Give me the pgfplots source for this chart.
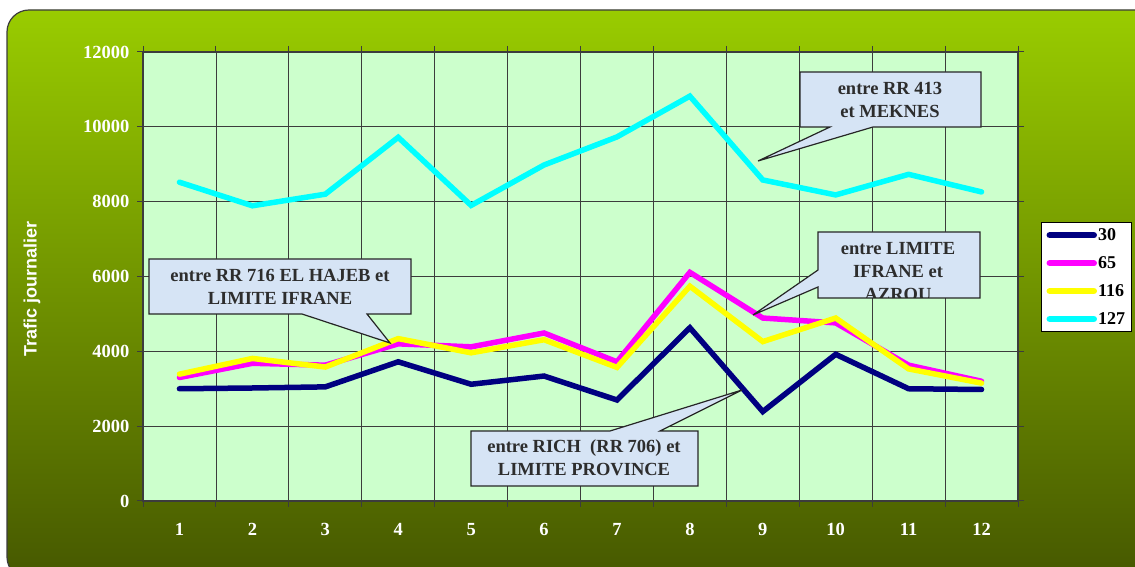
\documentclass[border=0pt]{standalone}
\usepackage{fontspec}
\setmainfont{Liberation Serif}
\newfontfamily\arialb{Liberation Sans}
\usepackage{pgfplots}
\pgfplotsset{compat=1.18}
\usepackage{pgfplotstable}

\definecolor{snavy}{RGB}{0,0,128}
\definecolor{smag}{RGB}{255,0,255}
\definecolor{syel}{RGB}{255,255,0}
\definecolor{scyan}{RGB}{0,255,255}
\definecolor{plotbg}{RGB}{204,255,204}
\definecolor{gtop}{RGB}{153,204,0}
\definecolor{gbot}{RGB}{70,88,0}
\definecolor{cfill}{RGB}{214,228,245}
\definecolor{frame}{RGB}{60,60,60}
\definecolor{ctext}{RGB}{45,45,45}

\pgfplotstableread{
x  a30  a65  a116  a127
1  3000 3300 3390  8520
2  3020 3680 3810  7890
3  3050 3630 3580  8200
4  3720 4200 4340  9720
5  3120 4120 3960  7900
6  3340 4490 4310  8980
7  2700 3720 3570  9730
8  4630 6110 5740  10820
9  2390 4890 4260  8580
10 3920 4760 4890  8180
11 3000 3630 3530  8730
12 2980 3200 3150  8260
}\datatable

\begin{document}
\begin{tikzpicture}[x=1pt,y=1pt]
\useasboundingbox (0,0) rectangle (1135,567);
\fill[white] (0,0) rectangle (1135,567);
\clip (0,0) rectangle (1135,567);
\path[draw=frame, line width=1.2pt, top color=gtop, bottom color=gbot, rounded corners=22pt]
  (7,557) rectangle (1160,-12);

\node[rotate=90, text=white, font={\arialb\bfseries\fontsize{18}{20}\selectfont}] at (32,278) {Trafic journalier};

\begin{axis}[
  at={(143pt,66pt)}, anchor=south west,
  width=875pt, height=449pt, scale only axis,
  xmin=0.5, xmax=12.5, ymin=0, ymax=12000,
  axis background/.style={fill=plotbg},
  axis line style={draw=frame, line width=2pt},
  xtick={0.5,1.5,...,12.5}, xticklabels={},
  xmajorgrids=true,
  extra x ticks={1,2,...,12},
  extra x tick labels={1,2,3,4,5,6,7,8,9,10,11,12},
  extra x tick style={major tick length=0pt, grid=none},
  ytick={0,2000,...,12000},
  ymajorgrids=true,
  grid style={draw=frame, line width=0.8pt},
  tick align=outside, major tick length=6pt,
  tick style={draw=frame, line width=1pt},
  scaled y ticks=false,
  /pgf/number format/.cd, 1000 sep={}, assume math mode=true,
  /pgfplots/.cd,
  ticklabel style={text=white, font={\bfseries\fontsize{18.5}{20}\selectfont}},
  xticklabel style={yshift=-19pt},
  yticklabel style={xshift=-4pt},
  legend style={at={(1.0263,0.6214)}, anchor=north west, draw=black, line width=1pt,
    fill=white, font={\bfseries\fontsize{18}{20}\selectfont},
    inner xsep=5pt, inner ysep=5pt, row sep=12.5pt,
    nodes={inner sep=1pt}},
  legend cell align=left,
  legend image code/.code={\draw[#1, line width=6.5pt, line cap=round] (0pt,0pt) -- (44pt,0pt);},
]
\addplot[color=snavy, line width=5.5pt, line cap=round] table[x=x,y=a30] {\datatable};
\addlegendentry{30}
\addplot[color=smag, line width=5.5pt, line cap=round] table[x=x,y=a65] {\datatable};
\addlegendentry{65}
\addplot[color=syel, line width=5.5pt, line cap=round] table[x=x,y=a116] {\datatable};
\addlegendentry{116}
\addplot[color=scyan, line width=5.5pt, line cap=round] table[x=x,y=a127] {\datatable};
\addlegendentry{127}
\end{axis}

% callout 1
\draw[fill=cfill, draw=black!85, line width=1.2pt]
  (149,253) -- (302,253) -- (390,224) -- (367,253) -- (411,253) -- (411,308) -- (149,308) -- cycle;
\node[align=center, text=ctext, font={\bfseries\fontsize{18.5}{23}\selectfont}] at (280,280)
  {entre RR 716 EL HAJEB et\\LIMITE IFRANE};
% callout 2
\draw[fill=cfill, draw=black!85, line width=1.2pt]
  (800,440) -- (830,440) -- (758,406) -- (873,440) -- (981,440) -- (981,495) -- (800,495) -- cycle;
\node[align=center, text=ctext, font={\bfseries\fontsize{18.5}{23}\selectfont}] at (890,467)
  {entre RR 413\\et MEKNES};
% callout 3
\fill[cfill] (818,269) -- (980,269) -- (980,335) -- (818,335) -- (818,297) -- (753,252) -- (818,280) -- cycle;
\begin{scope}
\clip (818,269) rectangle (980,335);
\node[align=center, text=ctext, font={\bfseries\fontsize{18.5}{23}\selectfont}] at (898,295)
  {entre LIMITE\\IFRANE et\\AZROU};
\end{scope}
\draw[draw=black!85, line width=1.2pt]
  (818,269) -- (980,269) -- (980,335) -- (818,335) -- (818,297) -- (753,252) -- (818,280) -- cycle;
% callout 4
\draw[fill=cfill, draw=black!85, line width=1.2pt]
  (471,136) -- (610,136) -- (742,177) -- (660,136) -- (698,136) -- (698,81) -- (471,81) -- cycle;
\node[align=center, text=ctext, font={\bfseries\fontsize{18.5}{23}\selectfont}] at (584,109)
  {entre RICH~\ (RR 706) et\\LIMITE PROVINCE};
\end{tikzpicture}
\end{document}
